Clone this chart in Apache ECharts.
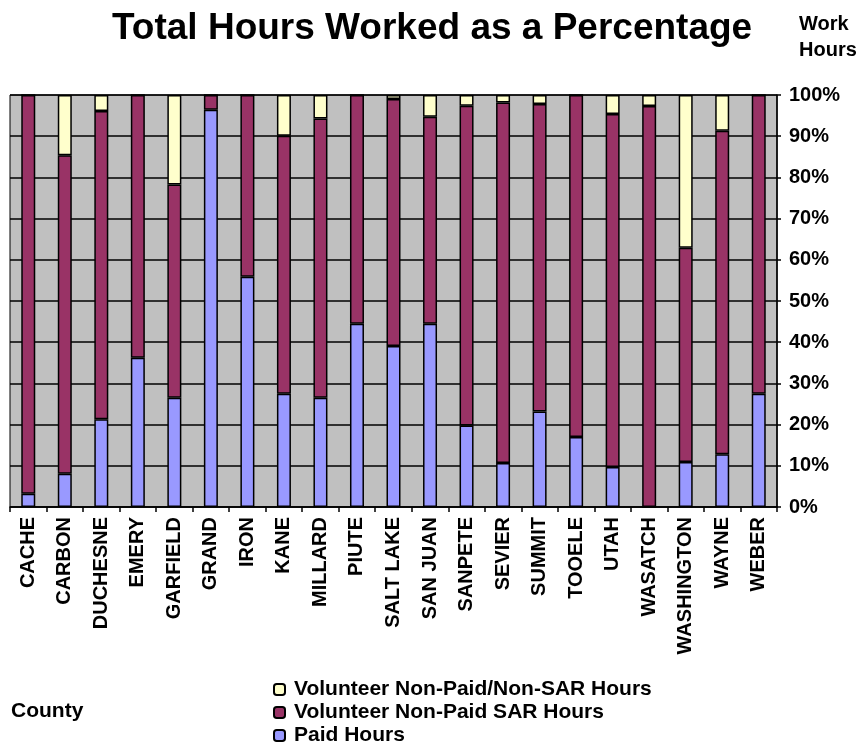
<!DOCTYPE html>
<html>
<head>
<meta charset="utf-8">
<script src="https://cdn.jsdelivr.net/npm/echarts@6/dist/echarts.min.js"></script>
<style>
html,body{margin:0;padding:0;background:#fff;}
#chart{width:858px;height:744px;}
</style>
</head>
<body>
<div id="chart"></div>
<script>
var categories = ['CACHE','CARBON','DUCHESNE','EMERY','GARFIELD','GRAND','IRON','KANE','MILLARD','PIUTE','SALT LAKE','SAN JUAN','SANPETE','SEVIER','SUMMIT','TOOELE','UTAH','WASATCH','WASHINGTON','WAYNE','WEBER'];
var paidHours = [3.2, 8.1, 21.3, 36.2, 26.5, 96.4, 55.9, 27.5, 26.5, 44.5, 39.1, 44.5, 19.8, 10.7, 23.2, 17.0, 9.7, 0, 10.9, 12.8, 27.5];
var sarHours = [96.8, 77.3, 74.8, 63.8, 51.8, 3.6, 44.1, 62.6, 67.8, 55.5, 59.9, 50.2, 77.6, 87.5, 74.6, 83.0, 85.7, 97.3, 52.0, 78.5, 72.5];
var nonSarHours = [0, 14.6, 3.9, 0, 21.7, 0, 0, 9.9, 5.7, 0, 1.0, 5.3, 2.6, 1.8, 2.2, 0, 4.6, 2.7, 37.1, 8.7, 0];
var seriesNames = ['Paid Hours', 'Volunteer Non-Paid SAR Hours', 'Volunteer Non-Paid/Non-SAR Hours'];
var yTicks = [0, 100, 10];

var font = 'Arial, "Liberation Sans", Helvetica, sans-serif';
var chart = echarts.init(document.getElementById('chart'), null, {renderer: 'canvas'});
function bar(name, data, color) {
  return {
    name: name, type: 'bar', stack: 'total', data: data, barWidth: 14,
    itemStyle: {color: color, borderColor: '#000', borderWidth: 1.5},
    emphasis: {disabled: true}
  };
}
chart.setOption({
  animation: false,
  backgroundColor: '#fff',
  textStyle: {fontFamily: font},
  title: [
    {text: 'Total Hours Worked as a Percentage', left: 107, top: 5,
     textStyle: {fontFamily: font, fontSize: 37, fontWeight: 'bold', color: '#000'}},
    {text: 'Work\nHours', left: 794, top: 6,
     textStyle: {fontFamily: font, fontSize: 20, fontWeight: 'bold', color: '#000', lineHeight: 26}},
    {text: 'County', left: 6, top: 696,
     textStyle: {fontFamily: font, fontSize: 21, fontWeight: 'bold', color: '#000'}}
  ],
  legend: {
    orient: 'vertical', left: 273, top: 679, width: 420, height: 90, itemWidth: 11, itemHeight: 11, itemGap: 2, padding: 0,
    data: [seriesNames[2], seriesNames[1], seriesNames[0]],
    textStyle: {fontFamily: font, fontSize: 21, fontWeight: 'bold', color: '#000', lineHeight: 20, padding: [0,0,0,4]}
  },
  grid: {left: 10, right: 81, top: 95, bottom: 237, show: true, backgroundColor: '#C0C0C0', borderColor: '#000', borderWidth: 1, containLabel: false},
  xAxis: {
    type: 'category', data: categories, boundaryGap: true,
    axisLine: {show: true, lineStyle: {color: '#000', width: 1.5}},
    axisTick: {show: true, interval: 0, length: 5, lineStyle: {color: '#000', width: 1.5}},
    axisLabel: {interval: 0, rotate: 90, margin: 10, fontFamily: font, fontSize: 20, fontWeight: 'bold', color: '#000'},
    splitLine: {show: false}
  },
  yAxis: {
    type: 'value', position: 'right', min: yTicks[0], max: yTicks[1], interval: yTicks[2],
    axisLine: {show: true, lineStyle: {color: '#000', width: 1.5}},
    axisTick: {show: true, inside: false, length: 4, lineStyle: {color: '#000', width: 1.5}},
    axisLabel: {formatter: '{value}%', margin: 12, fontFamily: font, fontSize: 20, fontWeight: 'bold', color: '#000'},
    splitLine: {show: true, lineStyle: {color: '#000', width: 1.5}}
  },
  series: [
    bar(seriesNames[0], paidHours, '#9999FF'),
    bar(seriesNames[1], sarHours, '#993366'),
    bar(seriesNames[2], nonSarHours, '#FFFFCC')
  ]
});
</script>
</body>
</html>
